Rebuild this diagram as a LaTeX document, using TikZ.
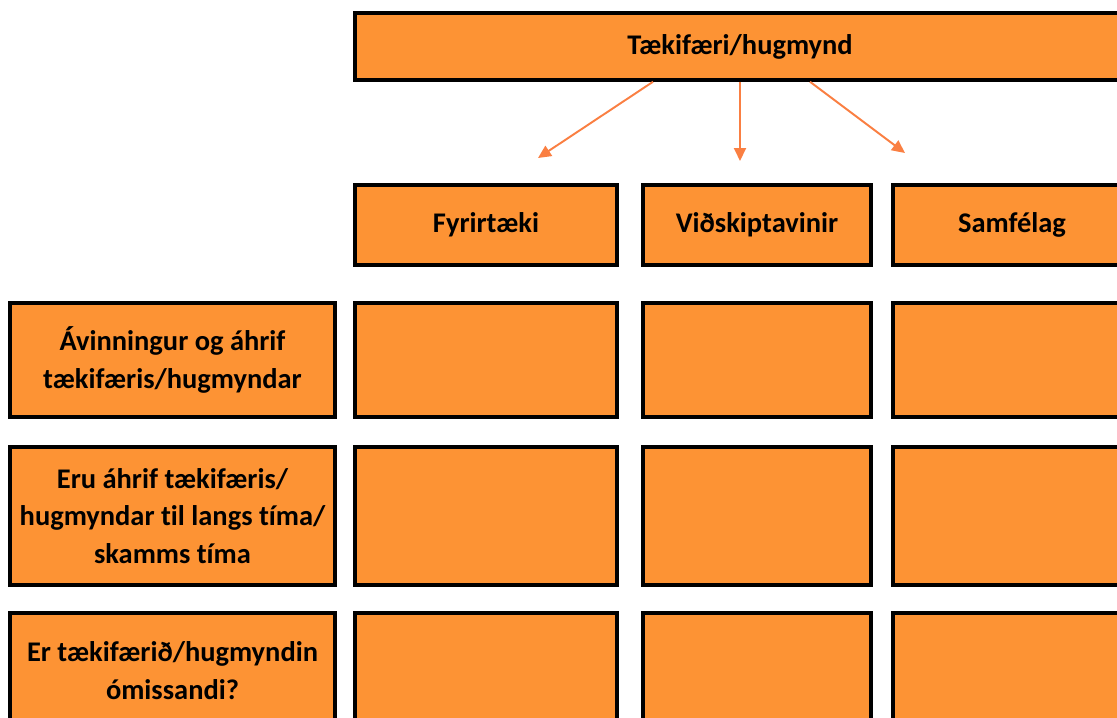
\documentclass[tikz,border=0pt]{standalone}
\usepackage{fontspec}
\setmainfont{Carlito}[Ligatures=NoCommon]
\usepackage{tikz}
\usetikzlibrary{arrows.meta, positioning, calc}
\definecolor{boxOrange}{RGB}{253,147,52}
\definecolor{arrowOrange}{RGB}{250,127,66}

\begin{document}
\begin{tikzpicture}
    \tikzstyle{every node} = [font=\fontsize{16.2}{21.5}\selectfont\bfseries]
    \tikzstyle{block} = [draw=black, line width=2pt, rectangle, fill=boxOrange, inner sep=0pt]
    \tikzstyle{rowhead} = [block, minimum width=6.5cm, align=center]
    \tikzstyle{cell} = [block, minimum height=2.28cm]
    \tikzstyle{arrowLine} = [draw=arrowOrange, line width=1.1pt, -{Triangle[length=0.26cm,width=0.24cm]}]
    \useasboundingbox (0,0) rectangle (22.34,-14.34);
    \clip (0,0) rectangle (22.34,-14.34);

    % place nodes
    \node[block, minimum width=15.4cm, minimum height=1.34cm] (ideaBox) at (14.8,-0.93) {Tækifæri/hugmynd};

    \node[block, minimum width=5.24cm, minimum height=1.6cm] (companyBox) at (9.72,-4.5) {Fyrirtæki};
    \node[block, minimum width=4.56cm, minimum height=1.6cm] (customerBox) at (15.14,-4.5) {Viðskiptavinir};
    \node[block, minimum width=4.76cm, minimum height=1.6cm] (societyBox) at (20.24,-4.5) {Samfélag};

    \node[rowhead, minimum height=2.28cm] (benefitRow) at (3.45,-7.2) {Ávinningur og áhrif\\tækifæris/hugmyndar};
    \node[rowhead, minimum height=2.76cm] (durationRow) at (3.45,-10.32) {Eru áhrif tækifæris/\\hugmyndar til langs tíma/\\skamms tíma};
    \node[rowhead, minimum height=2.3cm] (essentialRow) at (3.45,-13.41) {Er tækifærið/hugmyndin\\ómissandi?};

    % empty cells
    \node[cell, minimum width=5.24cm] (benefitCompany) at (9.72,-7.2) {};
    \node[cell, minimum width=4.56cm] (benefitCustomer) at (15.14,-7.2) {};
    \node[cell, minimum width=4.76cm] (benefitSociety) at (20.24,-7.2) {};
    \node[cell, minimum width=5.24cm, minimum height=2.76cm] (durationCompany) at (9.72,-10.32) {};
    \node[cell, minimum width=4.56cm, minimum height=2.76cm] (durationCustomer) at (15.14,-10.32) {};
    \node[cell, minimum width=4.76cm, minimum height=2.76cm] (durationSociety) at (20.24,-10.32) {};
    \node[cell, minimum width=5.24cm, minimum height=2.3cm] (essentialCompany) at (9.72,-13.41) {};
    \node[cell, minimum width=4.56cm, minimum height=2.3cm] (essentialCustomer) at (15.14,-13.41) {};
    \node[cell, minimum width=4.76cm, minimum height=2.3cm] (essentialSociety) at (20.24,-13.41) {};

    % Connections
    \coordinate (leftTip) at (10.76,-3.16);
    \coordinate (midTip) at (14.8,-3.22);
    \coordinate (rightTip) at (18.1,-3.06);
    \draw[arrowLine] ($(ideaBox.south)+(-1.74,0)$) -- (leftTip);
    \draw[arrowLine] (ideaBox.south) -- (midTip);
    \draw[arrowLine] ($(ideaBox.south)+(1.4,0)$) -- (rightTip);

\end{tikzpicture}
\end{document}
